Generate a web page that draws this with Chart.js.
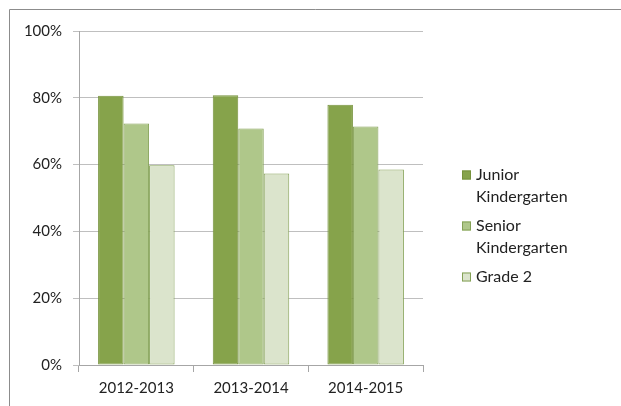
<!DOCTYPE html>
<html>
<head>
<meta charset="utf-8">
<script src="https://cdn.jsdelivr.net/npm/chart.js@4/dist/chart.umd.min.js"></script>
<style>
  html, body { margin: 0; padding: 0; background: #fff; }
  #wrap { width: 621px; height: 406px; }
</style>
</head>
<body>
<div id="wrap"><canvas id="chart" width="621" height="406"></canvas></div>
<script>
// Data
const years = ['2012-2013', '2013-2014', '2014-2015'];
const juniorK = [80.6, 80.8, 77.9];
const seniorK = [72.3, 70.8, 71.4];
const grade2 = [59.8, 57.3, 58.5];
const yTicks = [0, 20, 40, 60, 80, 100];

const FONT = 'Lato, "Open Sans", sans-serif';

// Outer frame (left and top edges only are visible)
const framePlugin = {
    id: 'frame',
    beforeDraw(chart) {
        const ctx = chart.ctx;
        ctx.save();
        ctx.strokeStyle = '#8c8c8c';
        ctx.lineWidth = 1;
        ctx.beginPath();
        ctx.moveTo(9.5, 406);
        ctx.lineTo(9.5, 9.5);
        ctx.lineTo(621, 9.5);
        ctx.stroke();
        ctx.restore();
    }
};

// Legend with wrapped labels on the right
const sideLegend = {
    id: 'sideLegend',
    afterDraw(chart) {
        const ctx = chart.ctx;
        const boxX = 462, textX = 476, lineH = 22, gap = 7;
        let y = 175;
        ctx.save();
        ctx.font = '16px ' + FONT;
        ctx.textBaseline = 'middle';
        chart.data.datasets.forEach(ds => {
            const lines = ds.legendLines;
            ctx.fillStyle = ds.backgroundColor;
            ctx.fillRect(boxX, y - 4.5, 9, 9);
            ctx.strokeStyle = ds.borderColor;
            ctx.lineWidth = 1;
            ctx.strokeRect(boxX + 0.5, y - 4, 8, 8);
            ctx.fillStyle = '#222';
            lines.forEach((ln, i) => ctx.fillText(ln, textX, y + i * lineH));
            y += lines.length * lineH + gap;
        });
        ctx.restore();
    }
};

const ctx = document.getElementById('chart').getContext('2d');
const chart = new Chart(ctx, {
    type: 'bar',
    data: {
        labels: years,
        datasets: [
            {
                label: 'Junior Kindergarten',
                legendLines: ['Junior', 'Kindergarten'],
                data: juniorK,
                backgroundColor: '#86a34b',
                borderColor: '#76923c',
                borderWidth: 1,
                borderSkipped: false
            },
            {
                label: 'Senior Kindergarten',
                legendLines: ['Senior', 'Kindergarten'],
                data: seniorK,
                backgroundColor: '#afc78a',
                borderColor: '#84a156',
                borderWidth: 1,
                borderSkipped: false
            },
            {
                label: 'Grade 2',
                legendLines: ['Grade 2'],
                data: grade2,
                backgroundColor: '#dbe4cc',
                borderColor: '#84a156',
                borderWidth: 1,
                borderSkipped: false
            }
        ]
    },
    options: {
        responsive: false,
        animation: false,
        layout: { padding: { left: 0, top: 31, right: 198, bottom: 0 } },
        datasets: {
            bar: { barPercentage: 1, categoryPercentage: 0.667 }
        },
        plugins: {
            legend: { display: false },
            tooltip: { enabled: false }
        },
        scales: {
            x: {
                afterFit: s => { s.height = 41; },
                grid: {
                    display: true,
                    offset: true,
                    drawOnChartArea: false,
                    drawTicks: true,
                    tickLength: 7,
                    color: '#a6a6a6'
                },
                border: { color: '#a6a6a6' },
                ticks: {
                    padding: 7,
                    color: '#222',
                    font: { family: FONT, size: 15 }
                }
            },
            y: {
                min: 0,
                max: 100,
                afterFit: s => { s.width = 79; },
                afterBuildTicks: s => { s.ticks = yTicks.map(v => ({ value: v })); },
                grid: {
                    color: '#bfbfbf',
                    tickLength: 6,
                    drawTicks: true
                },
                border: { color: '#a6a6a6' },
                ticks: {
                    padding: 11,
                    color: '#222',
                    font: { family: FONT, size: 15 },
                    callback: v => v + '%'
                }
            }
        }
    },
    plugins: [framePlugin, sideLegend]
});
</script>
</body>
</html>
